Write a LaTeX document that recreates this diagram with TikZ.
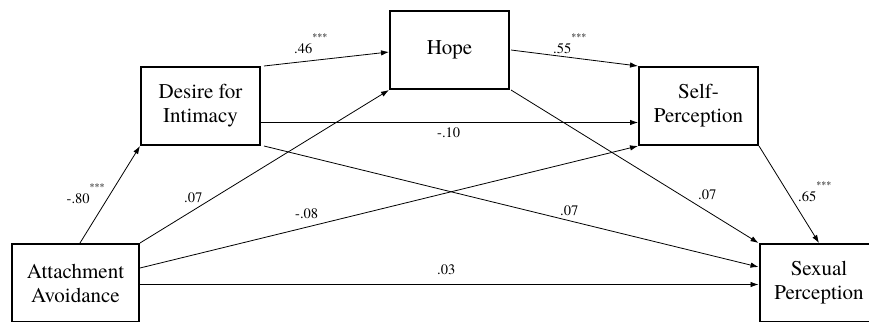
\documentclass[tikz,border=0pt]{standalone}
\usepackage{fontspec}
\setmainfont{TeX Gyre Termes}
\usetikzlibrary{arrows.meta}

\newcommand{\stars}{\raisebox{13pt}{\fontsize{10}{10}\selectfont ***}}

\tikzset{
    box/.style={draw, line width=2pt, minimum width=119pt, minimum height=78pt,
        inner sep=0pt, align=center, font=\fontsize{21}{24}\selectfont},
    arr/.style={-{Latex[length=8pt,width=5.5pt]}, line width=0.8pt},
    coef/.style={anchor=base west, inner sep=0pt, font=\fontsize{14.5}{16}\selectfont}
}

\begin{document}
\begin{tikzpicture}[x=1pt,y=-1pt]
    \useasboundingbox (0,0) rectangle (869,321);

    \node[box, minimum width=127pt] (aa) at (75.5,283) {Attachment\\Avoidance};
    \node[box] (di) at (200.5,106) {Desire for\\Intimacy};
    \node[box] (hope) at (449.5,50) {Hope};
    \node[box] (sp) at (698.5,106) {Self-\\Perception};
    \node[box] (sexp) at (819,283) {Sexual\\Perception};

    \draw[arr] ([xshift=4.5pt]aa.north) -- (di.south west);
    \draw[arr] (aa.north east) -- (hope.south west);
    \draw[arr] ([yshift=15pt]aa.east) -- (sp.south west);
    \draw[arr] ([yshift=-1.5pt]aa.east) -- ([yshift=-1.5pt]sexp.west);
    \draw[arr] ([xshift=3pt]di.north east) -- ([yshift=-2pt]hope.west);
    \draw[arr] ([yshift=-16.5pt]di.east) -- ([yshift=-16.5pt]sp.west);
    \draw[arr] ([xshift=3pt]di.south east) -- ([yshift=16pt]sexp.west);
    \draw[arr] ([xshift=1pt]hope.east) -- (sp.north west);
    \draw[arr] ([xshift=1pt]hope.south east) -- (sexp.north west);
    \draw[arr] (sp.south east) -- (sexp.north);

    \node[coef] (c1) at (66.5,203) {-.80\stars};
    \node[coef] (c2) at (184,202) {.07};
    \node[coef] (c3) at (295,218) {-.08};
    \node[coef] (c4) at (437,274) {.03};
    \node[coef] (c5) at (294,53) {.46\stars};
    \node[coef] (c6) at (437,137) {-.10};
    \node[coef] (c7) at (560,215) {.07};
    \node[coef] (c8) at (553,53) {.55\stars};
    \node[coef] (c9) at (698,199) {.07};
    \node[coef] (c10) at (798,201) {.65\stars};
\end{tikzpicture}
\end{document}
